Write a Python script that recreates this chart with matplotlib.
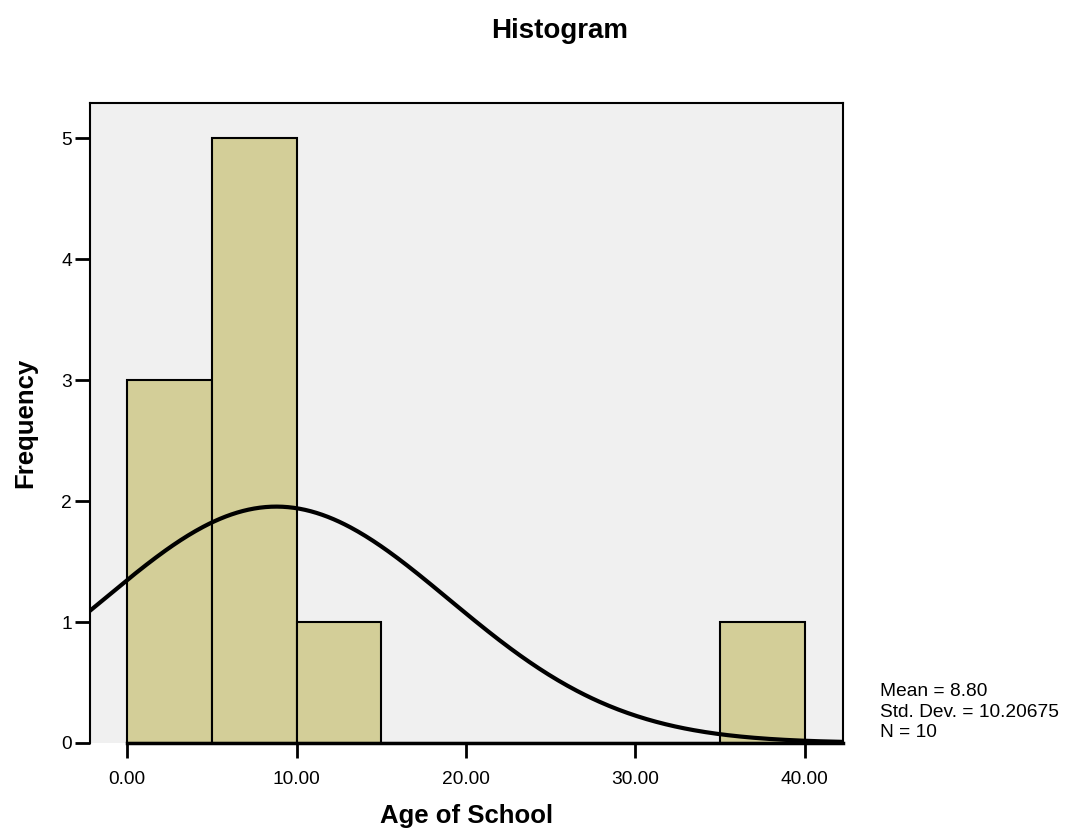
import numpy as np
import matplotlib
matplotlib.use("Agg")
from matplotlib import pyplot as plt

plt.rcParams['font.family'] = ['Liberation Sans', 'DejaVu Sans']

# Data histogram (bin kiri, lebar 5)
bin_edges = [0, 5, 10, 15, 20, 25, 30, 35, 40]
counts = [3, 5, 1, 0, 0, 0, 0, 1]
mean_val = 8.80
std_val = 10.20675
n_val = 10
x_ticks = [0, 10, 20, 30, 40]
x_labels = ["0.00", "10.00", "20.00", "30.00", "40.00"]
y_ticks = [0, 1, 2, 3, 4, 5]

fig = plt.figure(figsize=(10.7, 8.32), dpi=100)
ax = fig.add_axes([0.0841, 0.107, 0.7037, 0.769])
ax.set_facecolor("#F0F0F0")

lefts = bin_edges[:-1]
width = bin_edges[1] - bin_edges[0]
ax.bar(lefts, counts, width=width, align='edge', color="#D3CE98",
       edgecolor="black", linewidth=1.5, zorder=2)

# Kurva normal
xmin, xmax = -2.2, 42.25
xs = np.linspace(xmin, xmax, 400)
ys = n_val * width / (std_val * np.sqrt(2 * np.pi)) * np.exp(-0.5 * ((xs - mean_val) / std_val) ** 2)
ax.plot(xs, ys, color="black", linewidth=3, zorder=3)

ax.set_xlim(xmin, xmax)
ax.set_ylim(0, 5.29)

# Garis sumbu x mulai dari 0
ax.plot([0, xmax], [0, 0], color="black", linewidth=2.5, zorder=4, clip_on=False)
ax.spines['bottom'].set_visible(False)
for s in ['left', 'top', 'right']:
    ax.spines[s].set_linewidth(1.5)

ax.set_xticks(x_ticks)
ax.set_xticklabels(x_labels)
ax.set_yticks(y_ticks)
ax.tick_params(axis='both', labelsize=13.8, width=2, length=11, direction='out')
ax.tick_params(axis='y', pad=2)
ax.tick_params(axis='x', pad=9)

ax.set_xlabel("Age of School", fontsize=18.5, fontweight='bold', labelpad=12)
ax.set_ylabel("Frequency", fontsize=18.5, fontweight='bold', labelpad=17)
fig.text(0.523, 0.963, "Histogram", ha='center', va='center', fontsize=20, fontweight='bold')

fig.text(0.822, 0.144, f"Mean = {mean_val:.2f}\nStd. Dev. = {std_val:.5f}\nN = {n_val}",
         ha='left', va='center', fontsize=13.8, linespacing=1.25)

plt.savefig("out.png", dpi=100)
